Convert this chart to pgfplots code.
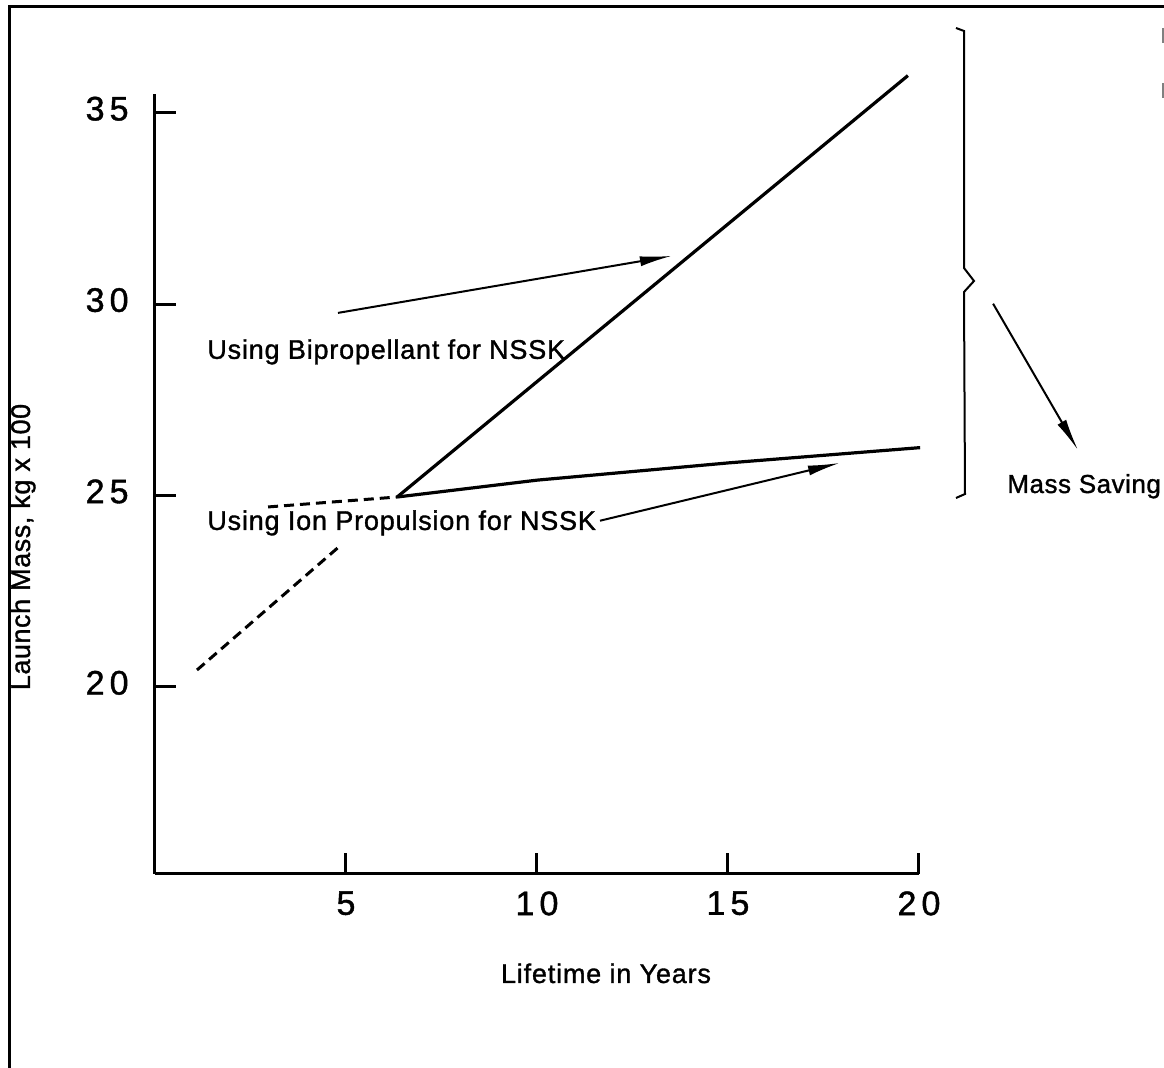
\documentclass[border=0pt]{standalone}
\usepackage{fontspec}
\setmainfont{Liberation Sans}
\newfontfamily\labfont{Liberation Sans}[LetterSpace=3,FakeBold=1.2]
\newfontfamily\ylabfont{Liberation Sans}[LetterSpace=2,FakeBold=1.2]
\newfontfamily\tickfont{Liberation Sans}[LetterSpace=15,FakeBold=1.2]
\usepackage{pgfplots}
\pgfplotsset{compat=1.18}
\usetikzlibrary{arrows.meta}
\begin{document}
\begin{tikzpicture}
\begin{scope}[x=0.5pt,y=-0.5pt]
\useasboundingbox (0,0) rectangle (1164,1068);
\draw[line width=1.5pt] (9,1068) -- (9,7) -- (1164,7);
\draw[gray, line width=1pt] (1163,28)--(1163,43) (1163,83)--(1163,98);
\draw[line width=1pt, line join=miter] (956,28) -- (964,31) -- (964,268) -- (974,281) -- (964,292) -- (965,494) -- (956,498);
\node[anchor=base west, font=\fontsize{13}{15}\ylabfont, inner sep=0pt] at (1007,493) {Mass Saving};
\node[rotate=90, font=\fontsize{13.5}{15}\ylabfont, inner sep=0pt] at (23,547) {Launch Mass, kg x 100};
\node[anchor=base, font=\fontsize{13.5}{15}\labfont, inner sep=0pt] at (606,983) {Lifetime in Years};
\end{scope}
\begin{axis}[at={(77.5pt,-437pt)}, anchor=south west,
  width=382pt, height=390.2pt, scale only axis,
  xmin=0, xmax=20, ymin=15.11, ymax=35.5,
  axis x line*=bottom, axis y line*=left,
  axis line style={line width=1.5pt},
  tick align=inside, major tick length=10.5pt,
  tick style={line width=1.5pt, black},
  xtick={5,10,15,20}, xticklabels={5,10,15,20},
  ytick={20,25,30,35}, yticklabels={20,25,30,35},
  xticklabel style={font=\fontsize{17}{17}\tickfont, anchor=north, inner sep=0pt, yshift=-8.5pt},
  yticklabel style={font=\fontsize{17}{17}\tickfont, anchor=east, inner sep=0pt, xshift=-13pt, yshift=2pt},
  clip=false]
\addplot[line width=1.6pt] coordinates {(6.34,24.96) (19.71,35.97)};
\addplot[line width=1.6pt] coordinates {(6.34,24.96) (10,25.4) (15,25.85) (20.03,26.25)};
\addplot[line width=1.5pt, dash pattern=on 5pt off 3pt] coordinates {(2.96,24.70) (6.34,24.96)};
\addplot[line width=1.5pt, dash pattern=on 5pt off 3pt] coordinates {(1.10,20.44) (4.84,23.68)};
\node[anchor=base west, inner sep=0pt, font=\fontsize{13.5}{15}\labfont] at (axis cs:1.36,28.57) {Using Bipropellant for NSSK};
\node[anchor=base west, inner sep=0pt, font=\fontsize{13.5}{15}\labfont] at (axis cs:1.36,24.10) {Using Ion Propulsion for NSSK};
\draw[line width=1pt, -{Latex[length=16pt,width=5pt]}] (axis cs:4.79,29.77) -- (axis cs:13.53,31.26);
\draw[line width=1pt, -{Latex[length=16pt,width=5pt]}] (axis cs:11.65,24.34) -- (axis cs:17.93,25.85);
\draw[line width=1pt, -{Latex[length=16pt,width=5pt]}] (axis cs:21.94,30.01) -- (axis cs:24.16,26.19);
\end{axis}
\end{tikzpicture}
\end{document}
